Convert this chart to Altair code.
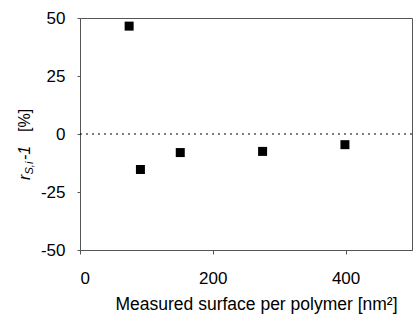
import altair as alt
import pandas as pd

# data
surface = [74, 91, 151, 275, 399]
deviation = [46.5, -15.3, -8.0, -7.5, -4.6]
x_ticks = [0, 200, 400]
y_ticks = [-50, -25, 0, 25, 50]
zero_level = [0]

FONT = "Liberation Sans"
AXIS_GRAY = "#555555"

df = pd.DataFrame({"surface": surface, "dev": deviation})

x_enc = alt.X(
    "surface:Q",
    scale=alt.Scale(domain=[0, 500], nice=False, zero=False),
    axis=alt.Axis(
        values=x_ticks,
        labelExpr="'' + datum.value",
        title="Measured surface per polymer [nm²]",
        labelFont=FONT, labelFontSize=17, labelColor="black",
        titleFont=FONT, titleFontSize=17.5, titleFontWeight="normal", titleColor="black",
        titlePadding=9, labelPadding=16, tickSize=4,
        titleX=176, titleAlign="center",
        domainColor=AXIS_GRAY, tickColor=AXIS_GRAY, grid=False,
    ),
)
y_enc = alt.Y(
    "dev:Q",
    scale=alt.Scale(domain=[-50, 50], nice=False),
    axis=alt.Axis(
        values=y_ticks,
        labelExpr="'' + datum.value",
        title=None,
        labelFont=FONT, labelFontSize=17, labelColor="black",
        labelPadding=12, tickSize=3,
        domainColor=AXIS_GRAY, tickColor=AXIS_GRAY, grid=False,
    ),
)

points = alt.Chart(df).mark_point(
    shape="square", filled=True, size=81, color="black", opacity=1
).encode(x=x_enc, y=y_enc)

zero = alt.Chart(pd.DataFrame({"z": zero_level})).mark_rule(
    strokeDash=[2, 4], color="black", strokeWidth=1.2
).encode(y=alt.Y("z:Q"))

one = alt.Data(values=[{"a": 1}])

def label(txt, x, y, size, italic):
    return alt.Chart(one).mark_text(
        text=txt, angle=270, align="left", baseline="alphabetic",
        font=FONT, fontSize=size, fontStyle="italic" if italic else "normal",
        color="black",
    ).encode(x=alt.value(x), y=alt.value(y))

ytitle = (
    label("r", -50, 162, 16, True)
    + label("S,i", -47, 156.5, 11, True)
    + label("-1", -50, 142, 16, True)
    + label("[%]", -50, 114, 16, False)
)

chart = (
    alt.layer(zero, points, ytitle)
    .properties(
        width=332, height=232,
        padding={"left": 80, "top": 18, "right": 1, "bottom": 70},
        autosize="none",
    )
    .configure_view(stroke=AXIS_GRAY, strokeWidth=1)
)

chart.save("out.html", embed_options={"renderer": "svg", "actions": False})
